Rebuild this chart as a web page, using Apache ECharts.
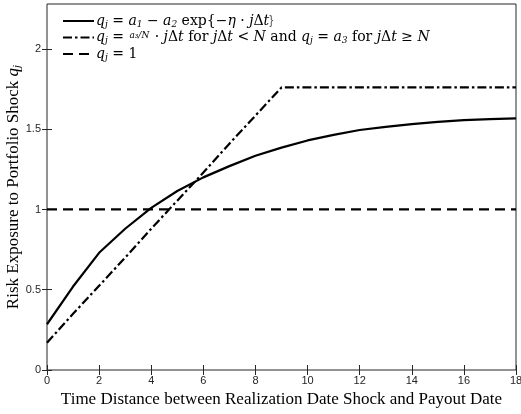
<!DOCTYPE html>
<html>
<head>
<meta charset="utf-8">
<script src="https://cdn.jsdelivr.net/npm/echarts@6/dist/echarts.min.js"></script>
<style>
html, body { margin: 0; padding: 0; background: #fff; }
#chart { width: 521px; height: 414px; }
</style>
</head>
<body>
<div id="chart"></div>
<script>
// time distance j*dt
var tDist = [0, 1, 2, 3, 4, 5, 6, 7, 8, 9, 10, 11, 12, 13, 14, 15, 16, 17, 18];
// q_j = a1 - a2 exp{-eta j dt}
var qExp = [0.285, 0.52, 0.73, 0.88, 1.01, 1.115, 1.2, 1.27, 1.335, 1.385, 1.43, 1.465, 1.495, 1.515, 1.532, 1.546, 1.556, 1.563, 1.568];
// linear up to N, then flat at a3
var qLin = [0.17, 0.35, 0.525, 0.70, 0.88, 1.055, 1.23, 1.41, 1.585, 1.76, 1.76, 1.76, 1.76, 1.76, 1.76, 1.76, 1.76, 1.76, 1.76];
// constant exposure
var qOne = [1, 1, 1, 1, 1, 1, 1, 1, 1, 1, 1, 1, 1, 1, 1, 1, 1, 1, 1];

var xTicks = [0, 2, 4, 6, 8, 10, 12, 14, 16, 18];
var yTicks = [0, 0.5, 1, 1.5, 2];

var seriesNames = ['exp', 'lin', 'one'];

function pairs(ys) {
    return tDist.map(function (t, i) { return [t, ys[i]]; });
}

var axisCol = '#262626';
var serif = '"DejaVu Serif", "Liberation Serif", serif';
var titleFont = '"Liberation Serif", "DejaVu Serif", serif';
var mathRich = {
    i: { fontFamily: serif, fontStyle: 'italic', fontSize: 14, color: '#000' },
    r: { fontFamily: serif, fontSize: 14, color: '#000' },
    s: { fontFamily: serif, fontStyle: 'italic', fontSize: 9, color: '#000', padding: [7, 0, 0, 0] },
    f: { fontFamily: serif, fontStyle: 'italic', fontSize: 9, color: '#000', padding: [0, 1, 3, 1] }
};
var legendText = {
    exp: '{i|q}{s|j}{r| = }{i|a}{s|1}{r| − }{i|a}{s|2}{r| exp{−}{i|η}{r| · }{i|j}{r|Δ}{i|t}{r|}}',
    lin: '{i|q}{s|j}{r| = }{f|a₃/N}{r| · }{i|j}{r|Δ}{i|t}{r| for }{i|j}{r|Δ}{i|t}{r| < }{i|N}{r| and }{i|q}{s|j}{r| = }{i|a}{s|3}{r| for }{i|j}{r|Δ}{i|t}{r| ≥ }{i|N}',
    one: '{i|q}{s|j}{r| = 1}'
};

var chart = echarts.init(document.getElementById('chart'), null, { renderer: 'canvas' });

var hiddenAxis = {
    axisLine: { show: false },
    axisLabel: { show: false },
    splitLine: { show: false }
};

chart.setOption({
    animation: false,
    backgroundColor: '#fff',
    grid: { left: 47, right: 5, top: 4, bottom: 44, show: true, borderColor: axisCol, borderWidth: 1, outerBoundsMode: 'none', containLabel: false },
    legend: {
        left: 62,
        top: 14,
        orient: 'vertical',
        itemGap: 1.5,
        itemWidth: 31,
        itemHeight: 14,
        padding: 0,
        selectedMode: false,
        data: seriesNames,
        itemStyle: { color: 'rgba(0,0,0,0)', borderWidth: 0, opacity: 0 },
        formatter: function (name) { return legendText[name]; },
        textStyle: { rich: mathRich, padding: [0, 0, 0, -3] }
    },
    xAxis: [{
        type: 'value',
        min: 0, max: 18, interval: 2,
        name: 'Time Distance between Realization Date Shock and Payout Date',
        nameLocation: 'middle',
        nameGap: 20,
        nameTextStyle: { fontFamily: titleFont, fontSize: 17, color: '#000' },
        axisLine: { show: false },
        axisTick: { inside: true, length: 5, lineStyle: { color: axisCol } },
        axisLabel: { margin: 5, fontFamily: 'Liberation Sans, Arial, sans-serif', fontSize: 11, color: axisCol, customValues: xTicks },
        splitLine: { show: false }
    }, Object.assign({
        type: 'value', position: 'top', min: 0, max: 18, interval: 2,
        axisTick: { inside: true, length: 5, lineStyle: { color: axisCol } }
    }, hiddenAxis)],
    yAxis: [{
        type: 'value',
        min: 0, max: 2.28,
        name: '{r|Risk Exposure to Portfolio Shock }{i|q}{s|j}',
        nameLocation: 'middle',
        nameGap: 24,
        nameMoveOverlap: false,
        nameTextStyle: { rich: { r: { fontFamily: titleFont, fontSize: 17, color: '#000' }, i: { fontFamily: titleFont, fontStyle: 'italic', fontSize: 17, color: '#000' }, s: { fontFamily: titleFont, fontStyle: 'italic', fontSize: 11, color: '#000', padding: [8, 0, 0, 0] } } },
        axisLine: { show: false },
        axisTick: { inside: true, length: 5, lineStyle: { color: axisCol }, customValues: yTicks },
        axisLabel: { margin: 6, fontFamily: 'Liberation Sans, Arial, sans-serif', fontSize: 11, color: axisCol, customValues: yTicks },
        splitLine: { show: false }
    }, Object.assign({
        type: 'value', position: 'right', min: 0, max: 2.28,
        axisTick: { inside: true, length: 5, lineStyle: { color: axisCol }, customValues: yTicks }
    }, hiddenAxis)],
    series: [
        {
            name: 'exp', type: 'line', data: pairs(qExp), symbol: 'none',
            lineStyle: { color: '#000', width: 2.2, type: 'solid' }, itemStyle: { color: '#000' }
        },
        {
            name: 'lin', type: 'line', data: pairs(qLin), symbol: 'none',
            lineStyle: { color: '#000', width: 2.2, type: [9, 3, 2.5, 3] }, itemStyle: { color: '#000' }
        },
        {
            name: 'one', type: 'line', data: pairs(qOne), symbol: 'none',
            lineStyle: { color: '#000', width: 2.2, type: [10, 6] }, itemStyle: { color: '#000' }
        }
    ]
});
</script>
</body>
</html>
